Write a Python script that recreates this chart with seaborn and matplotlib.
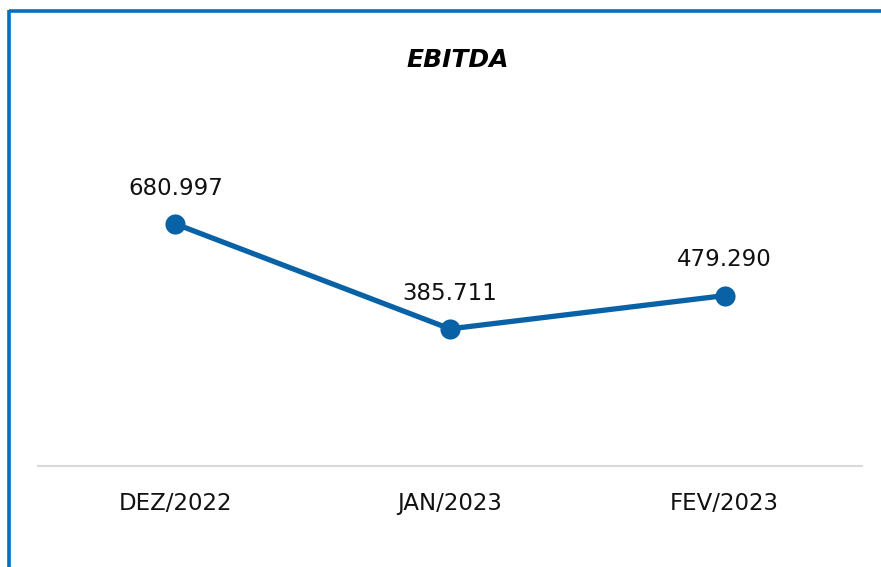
import matplotlib
matplotlib.use("Agg")
import matplotlib.pyplot as plt
import seaborn as sns
import pandas as pd
from matplotlib.lines import Line2D

# data
periods = ["DEZ/2022", "JAN/2023", "FEV/2023"]
ebitda = [680997, 385711, 479290]
labels = ["680.997", "385.711", "479.290"]

LINE_BLUE = "#0A62A6"
FRAME_BLUE = "#0070C0"

df = pd.DataFrame({"periodo": periods, "ebitda": ebitda})
df["x"] = range(len(df))

sns.set_theme(style="white")
plt.rcParams["font.family"] = ["DejaVu Sans"]

fig = plt.figure(figsize=(8.81, 5.67), dpi=100)
ax = fig.add_axes([38 / 881, 1 - 466 / 567, 824 / 881, 336 / 567])

sns.lineplot(data=df, x="x", y="ebitda", ax=ax, color=LINE_BLUE, linewidth=3.8,
             marker="o", markersize=14.5, markeredgewidth=0, markeredgecolor=LINE_BLUE)

for xi, yi, lab in zip(df["x"], df["ebitda"], labels):
    ax.annotate(lab, (xi, yi), xytext=(0, 17.5), textcoords="offset points",
                ha="center", va="bottom", fontsize=16.5, color="#111111")

ax.set_xlim(-0.5, 2.5)
ax.set_ylim(0, 945000)
ax.set_xticks(df["x"])
ax.set_xticklabels(periods, fontsize=16.5, color="#111111")
ax.set_yticks([])
ax.set_xlabel("")
ax.set_ylabel("")
ax.tick_params(axis="x", length=0, pad=19)
for side in ["top", "right", "left"]:
    ax.spines[side].set_visible(False)
ax.spines["bottom"].set_color("#D9D9D9")
ax.spines["bottom"].set_linewidth(1.5)

fig.text(458 / 881, 1 - 60 / 567, "EBITDA", ha="center", va="center",
         fontsize=18, fontweight="bold", fontstyle="italic", color="black")

# blue frame on top and left edges
fig.add_artist(Line2D([8.5 / 881, 1], [1 - 11 / 567, 1 - 11 / 567],
                      transform=fig.transFigure, color=FRAME_BLUE, linewidth=2.6,
                      solid_capstyle="butt"))
fig.add_artist(Line2D([8.5 / 881, 8.5 / 881], [0, 1 - 9.7 / 567],
                      transform=fig.transFigure, color=FRAME_BLUE, linewidth=2.6,
                      solid_capstyle="butt"))

fig.savefig("out.png", dpi=100)
